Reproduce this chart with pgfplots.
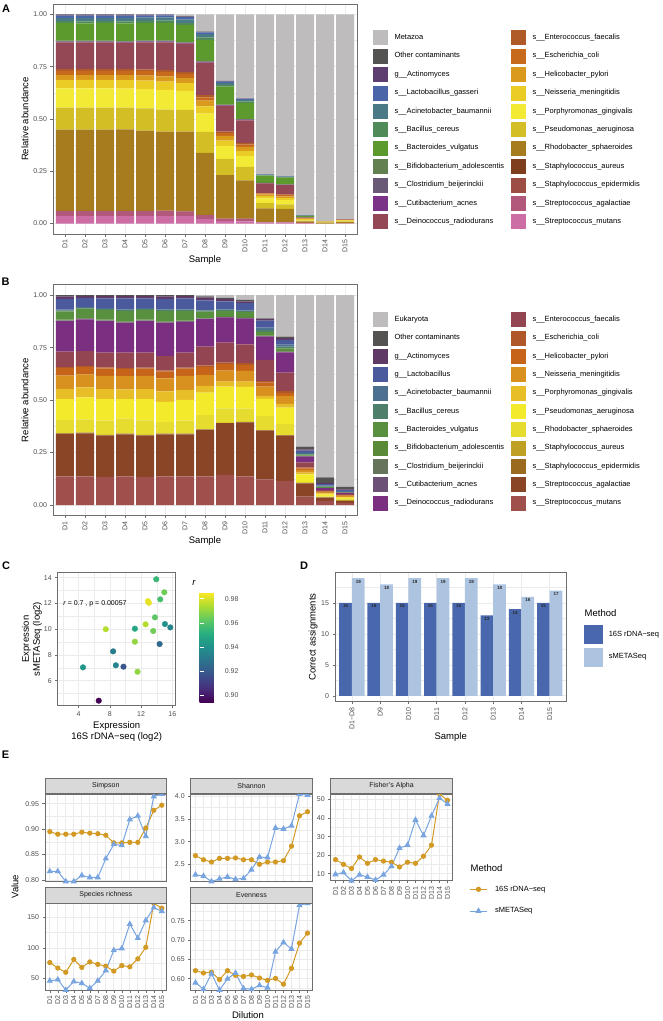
\documentclass[border=0pt]{standalone}
\usepackage{fontspec}
\setmainfont{Liberation Sans}
\usepackage{pgfplots}
\pgfplotsset{compat=1.18}
\usepackage{pgfplotstable}

\definecolor{bordercol}{RGB}{110,110,110}
\definecolor{gridcol}{RGB}{235,235,235}
\definecolor{ticktext}{RGB}{77,77,77}
\definecolor{stripfill}{RGB}{217,217,217}
% panel A colours
\definecolor{aMet}{RGB}{190,188,189}\definecolor{aOth}{RGB}{85,83,81}
\definecolor{aAct}{RGB}{94,62,112}\definecolor{aLac}{RGB}{74,102,168}
\definecolor{aAci}{RGB}{74,122,134}\definecolor{aBce}{RGB}{79,138,88}
\definecolor{aBac}{RGB}{92,154,46}\definecolor{aBif}{RGB}{98,128,80}
\definecolor{aClo}{RGB}{106,88,119}\definecolor{aCut}{RGB}{123,51,135}
\definecolor{aDei}{RGB}{148,71,85}\definecolor{aEnt}{RGB}{176,90,42}
\definecolor{aEco}{RGB}{200,106,28}\definecolor{aHel}{RGB}{218,154,30}
\definecolor{aNei}{RGB}{235,203,37}\definecolor{aPor}{RGB}{242,234,53}
\definecolor{aPse}{RGB}{211,190,38}\definecolor{aRho}{RGB}{166,124,30}
\definecolor{aAur}{RGB}{127,63,31}\definecolor{aEpi}{RGB}{156,78,69}
\definecolor{aAga}{RGB}{178,88,122}\definecolor{aMut}{RGB}{204,110,165}
% panel B colours
\definecolor{bEuk}{RGB}{190,188,189}\definecolor{bOth}{RGB}{85,83,81}
\definecolor{bAct}{RGB}{94,58,100}\definecolor{bLac}{RGB}{74,90,156}
\definecolor{bAci}{RGB}{75,112,144}\definecolor{bBce}{RGB}{78,127,106}
\definecolor{bBac}{RGB}{88,144,63}\definecolor{bBif}{RGB}{90,138,56}
\definecolor{bClo}{RGB}{102,116,92}\definecolor{bCut}{RGB}{109,80,117}
\definecolor{bDei}{RGB}{123,47,128}\definecolor{bEnt}{RGB}{148,69,82}
\definecolor{bEco}{RGB}{176,87,42}\definecolor{bHel}{RGB}{198,101,26}
\definecolor{bNei}{RGB}{216,144,30}\definecolor{bPor}{RGB}{232,190,40}
\definecolor{bPse}{RGB}{242,234,42}\definecolor{bRho}{RGB}{230,220,48}
\definecolor{bAur}{RGB}{192,160,35}\definecolor{bEpi}{RGB}{154,106,31}
\definecolor{bAga}{RGB}{138,68,38}\definecolor{bMut}{RGB}{160,80,76}
% D / E colours
\definecolor{dDark}{RGB}{73,103,173}\definecolor{dLight}{RGB}{173,196,224}
\definecolor{eOr}{RGB}{210,154,37}\definecolor{eBl}{RGB}{120,164,223}

\pgfplotstableread{
x mut aga epi aur rho pse por nei hel eco ent dei cut clo bif bac bce aci lac act oth met
1 0.037 0.022 0.002 0 0.388 0.105 0.092 0.040 0.024 0.020 0.008 0.128 0.003 0.002 0.004 0.083 0.010 0.016 0.010 0.004 0.002 0
2 0.036 0.023 0.002 0 0.388 0.106 0.091 0.041 0.023 0.020 0.008 0.128 0.003 0.002 0.004 0.082 0.010 0.017 0.010 0.004 0.002 0
3 0.037 0.022 0.002 0 0.388 0.105 0.092 0.040 0.024 0.020 0.008 0.128 0.003 0.002 0.004 0.083 0.010 0.016 0.010 0.004 0.002 0
4 0.036 0.023 0.002 0 0.389 0.104 0.091 0.041 0.024 0.020 0.008 0.127 0.003 0.002 0.004 0.083 0.010 0.017 0.010 0.004 0.002 0
5 0.037 0.022 0.002 0 0.383 0.107 0.092 0.041 0.024 0.021 0.008 0.130 0.003 0.002 0.004 0.083 0.010 0.016 0.010 0.004 0.001 0
6 0.036 0.024 0.002 0 0.378 0.105 0.094 0.040 0.025 0.022 0.008 0.133 0.003 0.002 0.004 0.084 0.010 0.016 0.010 0.003 0.001 0
7 0.035 0.022 0.002 0 0.381 0.104 0.090 0.038 0.023 0.021 0.008 0.136 0.003 0.002 0.004 0.080 0.010 0.018 0.010 0.003 0.002 0.008
8 0.021 0.019 0.001 0 0.297 0.100 0.088 0.035 0.027 0.016 0.010 0.156 0.003 0.002 0.003 0.099 0.013 0.016 0.008 0.003 0.001 0.082
9 0.013 0.010 0.001 0 0.208 0.077 0.062 0.026 0.022 0.013 0.008 0.124 0.002 0.001 0.002 0.086 0.008 0.010 0.006 0.002 0.001 0.318
10 0.011 0.011 0.001 0 0.184 0.064 0.053 0.024 0.019 0.011 0.008 0.108 0.002 0.002 0.002 0.077 0.007 0.008 0.004 0.001 0.001 0.402
11 0.005 0.003 0 0 0.064 0.027 0.022 0.010 0.008 0.005 0.003 0.045 0.001 0.001 0.001 0.034 0.002 0.003 0.001 0 0.001 0.764
12 0.005 0.003 0 0 0.062 0.022 0.020 0.010 0.008 0.006 0.003 0.045 0.001 0.001 0.001 0.033 0.002 0.003 0.001 0 0.001 0.773
13 0.002 0.001 0 0 0.007 0.004 0.004 0.003 0.003 0.001 0.001 0.004 0 0 0 0.005 0.002 0.002 0.001 0 0 0.960
14 0 0 0 0 0.004 0.002 0.002 0.001 0.002 0 0 0.001 0 0 0 0 0 0 0 0 0 0.988
15 0.001 0 0 0 0.006 0.003 0.003 0.002 0.002 0.001 0 0.002 0 0 0 0 0 0 0 0 0 0.980
}\Atab

\pgfplotstableread{
x mut aga epi aur rho pse por nei hel eco ent dei cut clo bif bac bce aci lac act oth euk
1 0.137 0.202 0.003 0 0.063 0.100 0.048 0.064 0.035 0.005 0.074 0.146 0.002 0.001 0.003 0.040 0.004 0.004 0.052 0.011 0.006 0
2 0.137 0.205 0.003 0 0.063 0.105 0.048 0.062 0.034 0.005 0.072 0.151 0.002 0.001 0.003 0.045 0.004 0.004 0.042 0.010 0.004 0
3 0.134 0.197 0.003 0 0.068 0.103 0.047 0.064 0.035 0.005 0.070 0.151 0.002 0.001 0.003 0.047 0.004 0.004 0.047 0.010 0.005 0
4 0.137 0.200 0.003 0 0.072 0.093 0.046 0.063 0.034 0.005 0.073 0.143 0.002 0.001 0.003 0.050 0.004 0.004 0.052 0.010 0.005 0
5 0.134 0.197 0.003 0 0.070 0.101 0.047 0.064 0.034 0.005 0.071 0.151 0.002 0.001 0.003 0.047 0.004 0.004 0.047 0.010 0.005 0
6 0.137 0.200 0.003 0 0.055 0.097 0.050 0.062 0.032 0.006 0.068 0.159 0.002 0.001 0.003 0.050 0.004 0.004 0.050 0.011 0.006 0
7 0.137 0.200 0.003 0 0.062 0.099 0.048 0.066 0.035 0.005 0.071 0.147 0.002 0.001 0.003 0.046 0.004 0.004 0.052 0.010 0.005 0
8 0.137 0.222 0.002 0 0.068 0.107 0.032 0.052 0.037 0.008 0.090 0.131 0.002 0.001 0.003 0.030 0.004 0.004 0.045 0.015 0.004 0.006
9 0.143 0.247 0.002 0 0.069 0.103 0.024 0.053 0.031 0.007 0.095 0.120 0.002 0.001 0.003 0.025 0.004 0.004 0.037 0.013 0.004 0.013
10 0.137 0.257 0.002 0 0.063 0.104 0.025 0.051 0.029 0.008 0.090 0.123 0.002 0.001 0.003 0.025 0.004 0.004 0.034 0.009 0.007 0.022
11 0.122 0.233 0.002 0 0.067 0.082 0.014 0.044 0.019 0.008 0.101 0.111 0.002 0.001 0.003 0.016 0.010 0.010 0.034 0.007 0.004 0.110
12 0.114 0.217 0.002 0 0.053 0.078 0.018 0.038 0.013 0.011 0.087 0.097 0.002 0.001 0.003 0.012 0.009 0.010 0.022 0.008 0.008 0.197
13 0.040 0.063 0.002 0 0.005 0.036 0.008 0.013 0.008 0.004 0.024 0.028 0.002 0 0.002 0.005 0.003 0.006 0.010 0.006 0.013 0.722
14 0.020 0.015 0.001 0.002 0.003 0.010 0.005 0.005 0.003 0.002 0.006 0.008 0.001 0 0.001 0.004 0.002 0.005 0.007 0.005 0.027 0.868
15 0.010 0.010 0 0.004 0.003 0.008 0.004 0.004 0.003 0.002 0.005 0.006 0 0 0 0.003 0.001 0.004 0.005 0.003 0.012 0.913
}\Btab

\pgfplotstableread{
x y r
13.94 13.88 0.955
14.97 12.87 0.965
14.45 12.32 0.958
12.87 12.18 0.982
13.00 12.05 0.982
13.77 10.92 0.962
7.47 10.00 0.975
11.20 10.04 0.948
12.57 10.38 0.975
15.05 10.40 0.940
15.74 10.14 0.935
13.55 9.86 0.965
11.20 9.03 0.970
14.37 8.85 0.925
8.41 8.28 0.932
4.55 7.04 0.942
8.76 7.20 0.935
9.74 7.09 0.918
11.54 6.70 0.970
6.57 4.45 0.894
}\Ctab

\pgfplotstableread{
x m16 sme
1 15 19
2 15 18
3 15 19
4 15 19
5 15 19
6 13 18
7 14 16
8 15 17
}\Dtab

\pgfplotstableread{
x a b
1 0.895 0.817
2 0.890 0.817
3 0.890 0.797
4 0.890 0.797
5 0.894 0.809
6 0.892 0.805
7 0.891 0.805
8 0.888 0.842
9 0.873 0.870
10 0.873 0.868
11 0.874 0.919
12 0.874 0.926
13 0.902 0.886
14 0.937 0.964
15 0.947 0.969
}\Esim
\pgfplotstableread{
x a b
1 2.69 2.27
2 2.60 2.24
3 2.55 2.12
4 2.63 2.18
5 2.63 2.22
6 2.64 2.17
7 2.60 2.19
8 2.60 2.38
9 2.50 2.66
10 2.55 2.65
11 2.55 3.30
12 2.58 3.28
13 2.90 3.35
14 3.57 4.05
15 3.66 4.03
}\Esha
\pgfplotstableread{
x a b
1 17.6 9.6
2 15.0 10.6
3 12.8 6.2
4 19.0 9.4
5 15.6 8.2
6 17.6 6.6
7 16.8 9.4
8 16.2 14.0
9 13.6 23.8
10 16.2 25.4
11 15.6 39.0
12 19.4 30.6
13 25.4 41.2
14 53.0 50.8
15 49.6 47.6
}\Efis
\pgfplotstableread{
x a b
1 76 46
2 67 48
3 60 31
4 81 45
5 68 42
6 77 34
7 73 46
8 70 63
9 62 96
10 71 99
11 69 139
12 82 116
13 101 145
14 173 166
15 165 160
}\Espr
\pgfplotstableread{
x a b
1 0.621 0.590
2 0.615 0.573
3 0.617 0.613
4 0.598 0.571
5 0.621 0.600
6 0.609 0.615
7 0.606 0.575
8 0.610 0.573
9 0.602 0.583
10 0.596 0.577
11 0.601 0.670
12 0.586 0.694
13 0.627 0.677
14 0.692 0.790
15 0.718 0.795
}\Eeve

\pgfplotsset{
  gg/.style={
    scale only axis,
    axis line style={draw=bordercol, line width=0.6pt},
    tick style={draw=bordercol, line width=0.6pt},
    major tick length=2.5pt, minor tick length=0pt,
    tick align=outside,
    xtick pos=left, ytick pos=left,
    tick label style={font=\fontsize{7}{8}\selectfont, text=ticktext},
    label style={font=\fontsize{9.5}{11}\selectfont, text=black},
    major grid style={draw=gridcol, line width=0.7pt},
    minor grid style={draw=gridcol, line width=0.35pt},
    /pgf/number format/assume math mode=true,
  },
  eE/.style={gg, width=121.6pt, xmin=0.4, xmax=15.6, xtick={1,...,15},
    xmajorgrids, ymajorgrids, yminorgrids, enlarge y limits={value=0.05},
    xticklabels={D1,D2,D3,D4,D5,D6,D7,D8,D9,D10,D11,D12,D13,D14,D15},
    xticklabel style={rotate=90, anchor=east},
    title style={at={(0.5,1)}, anchor=south, yshift=-6pt, draw=bordercol, fill=stripfill,
      line width=0.6pt, minimum width=121.6pt, minimum height=15.7pt, inner sep=0pt,
      font=\fontsize{7}{8}\selectfont, text=black!90},
  },
  eO/.style={color=eOr, line width=1pt, mark=*, mark size=2.1pt, mark options={solid, fill=eOr}},
  eB/.style={color=eBl, line width=1pt, mark=triangle*, mark size=2.7pt, mark options={solid, fill=eBl}},
  legax/.style={hide axis, scale only axis, width=10pt, height=10pt, xmin=0, xmax=1, ymin=0, ymax=1,
    anchor=north west, legend cell align=left},
}
\newcommand{\lgA}[2]{\addlegendimage{fill=#1, draw=white, line width=0.5pt}\addlegendentry{#2}}
\newcommand{\stk}[3]{\addplot[fill=#1, draw=none] table[x=x,y=#2]{#3};}

\begin{document}
\begin{tikzpicture}
\path[use as bounding box] (0,0) rectangle (662pt,-1021pt);

% ---------------- Panel A
\begin{axis}[gg, at={(53pt,-4pt)}, anchor=north west, width=304pt, height=230pt,
  ybar stacked, bar width=0.9,
  xmin=0.4, xmax=15.6, ymin=-0.05, ymax=1.05,
  xtick={1,...,15}, xticklabels={D1,D2,D3,D4,D5,D6,D7,D8,D9,D10,D11,D12,D13,D14,D15},
  ytick={0,0.25,0.5,0.75,1}, yticklabels={0.00,0.25,0.50,0.75,1.00},
  minor ytick={0.125,0.375,0.625,0.875},
  xmajorgrids, ymajorgrids, yminorgrids,
  xticklabel style={rotate=90, anchor=east},
  xlabel={Sample}, ylabel={Relative abundance},
  xlabel style={at={(axis description cs:0.5,-0.113)}, anchor=center},
  ylabel style={at={(axis description cs:-0.092,0.5)}, anchor=center},
  enlargelimits=false]
\stk{aMut}{mut}{\Atab}\stk{aAga}{aga}{\Atab}\stk{aEpi}{epi}{\Atab}\stk{aAur}{aur}{\Atab}
\stk{aRho}{rho}{\Atab}\stk{aPse}{pse}{\Atab}\stk{aPor}{por}{\Atab}\stk{aNei}{nei}{\Atab}
\stk{aHel}{hel}{\Atab}\stk{aEco}{eco}{\Atab}\stk{aEnt}{ent}{\Atab}\stk{aDei}{dei}{\Atab}
\stk{aCut}{cut}{\Atab}\stk{aClo}{clo}{\Atab}\stk{aBif}{bif}{\Atab}\stk{aBac}{bac}{\Atab}
\stk{aBce}{bce}{\Atab}\stk{aAci}{aci}{\Atab}\stk{aLac}{lac}{\Atab}\stk{aAct}{act}{\Atab}
\stk{aOth}{oth}{\Atab}\stk{aMet}{met}{\Atab}
\end{axis}

\begin{axis}[legax, at={(372pt,-29.3pt)}, legend columns=2,
  legend style={at={(0,1)}, anchor=north west, draw=none, fill=none, inner sep=0pt, outer sep=0pt,
    font=\fontsize{7.5}{9}\selectfont, row sep=1.9pt,
    nodes={inner sep=0pt, text height=5.4pt, text depth=1.6pt},
    /tikz/every odd column/.append style={column sep=6pt},
    /tikz/every even column/.append style={column sep=6pt}},
  legend image code/.code={\draw[#1] (0pt,-8pt) rectangle (16pt,8pt);}]
\lgA{aMet}{Metazoa}\lgA{aEnt}{s\_\_Enterococcus\_faecalis}
\lgA{aOth}{Other contaminants}\lgA{aEco}{s\_\_Escherichia\_coli}
\lgA{aAct}{g\_\_Actinomyces}\lgA{aHel}{s\_\_Helicobacter\_pylori}
\lgA{aLac}{s\_\_Lactobacillus\_gasseri}\lgA{aNei}{s\_\_Neisseria\_meningitidis}
\lgA{aAci}{s\_\_Acinetobacter\_baumannii}\lgA{aPor}{s\_\_Porphyromonas\_gingivalis}
\lgA{aBce}{s\_\_Bacillus\_cereus}\lgA{aPse}{s\_\_Pseudomonas\_aeruginosa}
\lgA{aBac}{s\_\_Bacteroides\_vulgatus}\lgA{aRho}{s\_\_Rhodobacter\_sphaeroides}
\lgA{aBif}{s\_\_Bifidobacterium\_adolescentis}\lgA{aAur}{s\_\_Staphylococcus\_aureus}
\lgA{aClo}{s\_\_Clostridium\_beijerinckii}\lgA{aEpi}{s\_\_Staphylococcus\_epidermidis}
\lgA{aCut}{s\_\_Cutibacterium\_acnes}\lgA{aAga}{s\_\_Streptococcus\_agalactiae}
\lgA{aDei}{s\_\_Deinococcus\_radiodurans}\lgA{aMut}{s\_\_Streptococcus\_mutans}
\end{axis}

% ---------------- Panel B
\begin{axis}[gg, at={(53pt,-284.7pt)}, anchor=north west, width=304pt, height=230.8pt,
  ybar stacked, bar width=0.9,
  xmin=0.4, xmax=15.6, ymin=-0.05, ymax=1.05,
  xtick={1,...,15}, xticklabels={D1,D2,D3,D4,D5,D6,D7,D8,D9,D10,D11,D12,D13,D14,D15},
  ytick={0,0.25,0.5,0.75,1}, yticklabels={0.00,0.25,0.50,0.75,1.00},
  minor ytick={0.125,0.375,0.625,0.875},
  xmajorgrids, ymajorgrids, yminorgrids,
  xticklabel style={rotate=90, anchor=east},
  xlabel={Sample}, ylabel={Relative abundance},
  xlabel style={at={(axis description cs:0.5,-0.109)}, anchor=center},
  ylabel style={at={(axis description cs:-0.092,0.5)}, anchor=center},
  enlargelimits=false]
\stk{bMut}{mut}{\Btab}\stk{bAga}{aga}{\Btab}\stk{bEpi}{epi}{\Btab}\stk{bAur}{aur}{\Btab}
\stk{bRho}{rho}{\Btab}\stk{bPse}{pse}{\Btab}\stk{bPor}{por}{\Btab}\stk{bNei}{nei}{\Btab}
\stk{bHel}{hel}{\Btab}\stk{bEco}{eco}{\Btab}\stk{bEnt}{ent}{\Btab}\stk{bDei}{dei}{\Btab}
\stk{bCut}{cut}{\Btab}\stk{bClo}{clo}{\Btab}\stk{bBif}{bif}{\Btab}\stk{bBac}{bac}{\Btab}
\stk{bBce}{bce}{\Btab}\stk{bAci}{aci}{\Btab}\stk{bLac}{lac}{\Btab}\stk{bAct}{act}{\Btab}
\stk{bOth}{oth}{\Btab}\stk{bEuk}{euk}{\Btab}
\end{axis}

\begin{axis}[legax, at={(372pt,-311.3pt)}, legend columns=2,
  legend style={at={(0,1)}, anchor=north west, draw=none, fill=none, inner sep=0pt, outer sep=0pt,
    font=\fontsize{7.5}{9}\selectfont, row sep=1.85pt,
    nodes={inner sep=0pt, text height=5.4pt, text depth=1.6pt},
    /tikz/every odd column/.append style={column sep=6pt},
    /tikz/every even column/.append style={column sep=6pt}},
  legend image code/.code={\draw[#1] (0pt,-8pt) rectangle (16pt,8pt);}]
\lgA{bEuk}{Eukaryota}\lgA{bEnt}{s\_\_Enterococcus\_faecalis}
\lgA{bOth}{Other contaminants}\lgA{bEco}{s\_\_Escherichia\_coli}
\lgA{bAct}{g\_\_Actinomyces}\lgA{bHel}{s\_\_Helicobacter\_pylori}
\lgA{bLac}{g\_\_Lactobacillus}\lgA{bNei}{s\_\_Neisseria\_meningitidis}
\lgA{bAci}{s\_\_Acinetobacter\_baumannii}\lgA{bPor}{s\_\_Porphyromonas\_gingivalis}
\lgA{bBce}{s\_\_Bacillus\_cereus}\lgA{bPse}{s\_\_Pseudomonas\_aeruginosa}
\lgA{bBac}{s\_\_Bacteroides\_vulgatus}\lgA{bRho}{s\_\_Rhodobacter\_sphaeroides}
\lgA{bBif}{s\_\_Bifidobacterium\_adolescentis}\lgA{bAur}{s\_\_Staphylococcus\_aureus}
\lgA{bClo}{s\_\_Clostridium\_beijerinckii}\lgA{bEpi}{s\_\_Staphylococcus\_epidermidis}
\lgA{bCut}{s\_\_Cutibacterium\_acnes}\lgA{bAga}{s\_\_Streptococcus\_agalactiae}
\lgA{bDei}{s\_\_Deinococcus\_radiodurans}\lgA{bMut}{s\_\_Streptococcus\_mutans}
\end{axis}

% ---------------- Panel C
\begin{axis}[gg, at={(57.7pt,-572.3pt)}, anchor=north west, width=118pt, height=133.4pt,
  xmin=1.31, xmax=16.43, ymin=4.06, ymax=14.42,
  xtick={4,8,12,16}, ytick={6,8,10,12,14},
  minor xtick={2,6,10,14}, minor ytick={5,7,9,11,13},
  xmajorgrids, ymajorgrids, xminorgrids, yminorgrids,
  xlabel={Expression\\16S rDNA−seq (log2)}, ylabel={Expression\\sMETASeq (log2)},
  xlabel style={align=center, at={(axis description cs:0.5,-0.197)}, anchor=center},
  ylabel style={align=center, at={(axis description cs:-0.218,0.5)}, anchor=center},
  colormap={vir}{rgb255=(68,1,84) rgb255=(71,45,123) rgb255=(59,82,139) rgb255=(44,114,142)
    rgb255=(33,144,140) rgb255=(39,173,129) rgb255=(93,200,99) rgb255=(170,220,50) rgb255=(253,231,37)},
  point meta min=0.894, point meta max=0.985,
  colorbar,
  colorbar style={at={(parent axis.north east)}, anchor=north west, xshift=15.3pt, yshift=-20.4pt,
    scale only axis, width=21.7pt, height=109.6pt,
    ytick={0.90,0.92,0.94,0.96,0.98}, yticklabels={0.90,0.92,0.94,0.96,0.98},
    yticklabel pos=right, ytick pos=both, tick align=inside, major tick length=4pt,
    tick style={draw=white, line width=0.6pt},
    yticklabel style={font=\fontsize{7}{8}\selectfont, text=ticktext},
    axis line style={draw=none}},
  enlargelimits=false]
\addplot[scatter, only marks, mark=*, mark size=2.8pt, scatter src=explicit,
  scatter/use mapped color={draw=mapped color, fill=mapped color}]
  table[x=x, y=y, meta=r]{\Ctab};
\node[anchor=west, inner sep=0pt, font=\fontsize{7}{8}\selectfont] at (axis cs:2,12)
  {\textit{r} = 0.7 , p = 0.00057};
\end{axis}
\node[font=\fontsize{9.5}{11}\selectfont\itshape] at (194pt,-583pt) {r};

% ---------------- Panel D
\begin{axis}[gg, at={(335pt,-572.3pt)}, anchor=north west, width=231.7pt, height=129.4pt,
  ybar, bar width=0.45,
  xmin=0.4, xmax=8.6, ymin=-0.95, ymax=19.95,
  xtick={1,...,8}, xticklabels={D1−D8,D9,D10,D11,D12,D13,D14,D15},
  ytick={0,5,10,15}, minor ytick={2.5,7.5,12.5,17.5},
  xmajorgrids, ymajorgrids, yminorgrids,
  xticklabel style={rotate=90, anchor=east},
  xlabel={Sample}, ylabel={Correct assignments},
  xlabel style={at={(axis description cs:0.4994,-0.275)}, anchor=center},
  ylabel style={at={(axis description cs:-0.0937,0.5)}, anchor=center},
  nodes near coords,
  every node near coord/.append style={font=\fontsize{4.5}{5}\selectfont\bfseries, anchor=north, inner sep=1.6pt, text=black!85},
  enlargelimits=false]
\addplot[fill=dDark, draw=none, bar shift=-0.225] table[x=x,y=m16]{\Dtab};
\addplot[fill=dLight, draw=none, bar shift=0.225] table[x=x,y=sme]{\Dtab};
\end{axis}
\node[anchor=west, font=\fontsize{9.5}{11}\selectfont] at (581.2pt,-613.3pt) {Method};
\begin{axis}[legax, at={(582.7pt,-624.3pt)},
  legend style={at={(0,1)}, anchor=north west, draw=none, fill=none, inner sep=0pt, outer sep=0pt,
    font=\fontsize{7.5}{9}\selectfont, row sep=2pt,
    nodes={inner sep=0pt, text height=5.4pt, text depth=1.6pt},
    /tikz/every odd column/.append style={column sep=5.6pt}},
  legend image code/.code={\draw[#1] (0pt,-10pt) rectangle (20pt,10pt);}]
\addlegendimage{fill=dDark, draw=white, line width=0.5pt}\addlegendentry{16S rDNA−seq}
\addlegendimage{fill=dLight, draw=white, line width=0.5pt}\addlegendentry{sMETASeq}
\end{axis}

% ---------------- Panel E
\begin{axis}[eE, at={(45pt,-794pt)}, anchor=north west, height=87.5pt, title={Simpson},
  xtick pos=right, xticklabels={},
  ytick={0.80,0.85,0.90,0.95}, yticklabels={0.80,0.85,0.90,0.95}, minor ytick={0.825,0.875,0.925,0.975},
  ylabel={Value}, ylabel style={at={(axis description cs:-0.247,-0.059)}, anchor=center}]
\addplot[eO] table[x=x,y=a]{\Esim};
\addplot[eB] table[x=x,y=b]{\Esim};
\end{axis}
\begin{axis}[eE, at={(190.7pt,-794pt)}, anchor=north west, height=87.5pt, title={Shannon},
  xtick pos=right, xticklabels={},
  ytick={2.5,3,3.5,4}, yticklabels={2.5,3.0,3.5,4.0}, minor ytick={2.25,2.75,3.25,3.75}]
\addplot[eO] table[x=x,y=a]{\Esha};
\addplot[eB] table[x=x,y=b]{\Esha};
\end{axis}
\begin{axis}[eE, at={(330.7pt,-794pt)}, anchor=north west, height=86.7pt, title={Fisher's Alpha},
  ytick={10,20,30,40,50}, minor ytick={5,15,25,35,45,55}]
\addplot[eO] table[x=x,y=a]{\Efis};
\addplot[eB] table[x=x,y=b]{\Efis};
\end{axis}
\begin{axis}[eE, at={(45pt,-903.3pt)}, anchor=north west, height=86.7pt, title={Species richness},
  ytick={50,100,150}, minor ytick={25,75,125,175},
  xlabel={Dilution}, xlabel style={at={(axis description cs:1.669,-0.288)}, anchor=center}]
\addplot[eO] table[x=x,y=a]{\Espr};
\addplot[eB] table[x=x,y=b]{\Espr};
\end{axis}
\begin{axis}[eE, at={(190.7pt,-903.3pt)}, anchor=north west, height=86.7pt, title={Evenness},
  ytick={0.60,0.65,0.70,0.75,0.80}, yticklabels={0.60,0.65,0.70,0.75,0.80},
  minor ytick={0.575,0.625,0.675,0.725,0.775}]
\addplot[eO] table[x=x,y=a]{\Eeve};
\addplot[eB] table[x=x,y=b]{\Eeve};
\end{axis}
\node[anchor=west, font=\fontsize{9.5}{11}\selectfont] at (467.2pt,-868.3pt) {Method};
\begin{axis}[legax, at={(469.3pt,-878.45pt)},
  legend style={at={(0,1)}, anchor=north west, draw=none, fill=none, inner sep=0pt, outer sep=0pt,
    font=\fontsize{7.5}{9}\selectfont, row sep=0pt,
    nodes={inner sep=0pt, text height=5.4pt, text depth=1.6pt},
    /tikz/every odd column/.append style={column sep=7.3pt}},
  legend image code/.code={\draw[#1, mark repeat=2, mark phase=2] plot coordinates {(0pt,0pt) (8.7pt,0pt) (17.4pt,0pt)};
    \path[draw=none, fill=none] (0pt,-10.85pt) rectangle (17.4pt,10.85pt);}]
\addlegendimage{eO}\addlegendentry{16S rDNA−seq}
\addlegendimage{eB}\addlegendentry{sMETASeq}
\end{axis}

% panel letters
\node[font=\fontsize{11}{13}\selectfont\bfseries] at (6pt,-8.7pt) {A};
\node[font=\fontsize{11}{13}\selectfont\bfseries] at (5.5pt,-281.5pt) {B};
\node[font=\fontsize{11}{13}\selectfont\bfseries] at (6pt,-565.5pt) {C};
\node[font=\fontsize{11}{13}\selectfont\bfseries] at (304pt,-565.5pt) {D};
\node[font=\fontsize{11}{13}\selectfont\bfseries] at (5.5pt,-755pt) {E};
\end{tikzpicture}
\end{document}
